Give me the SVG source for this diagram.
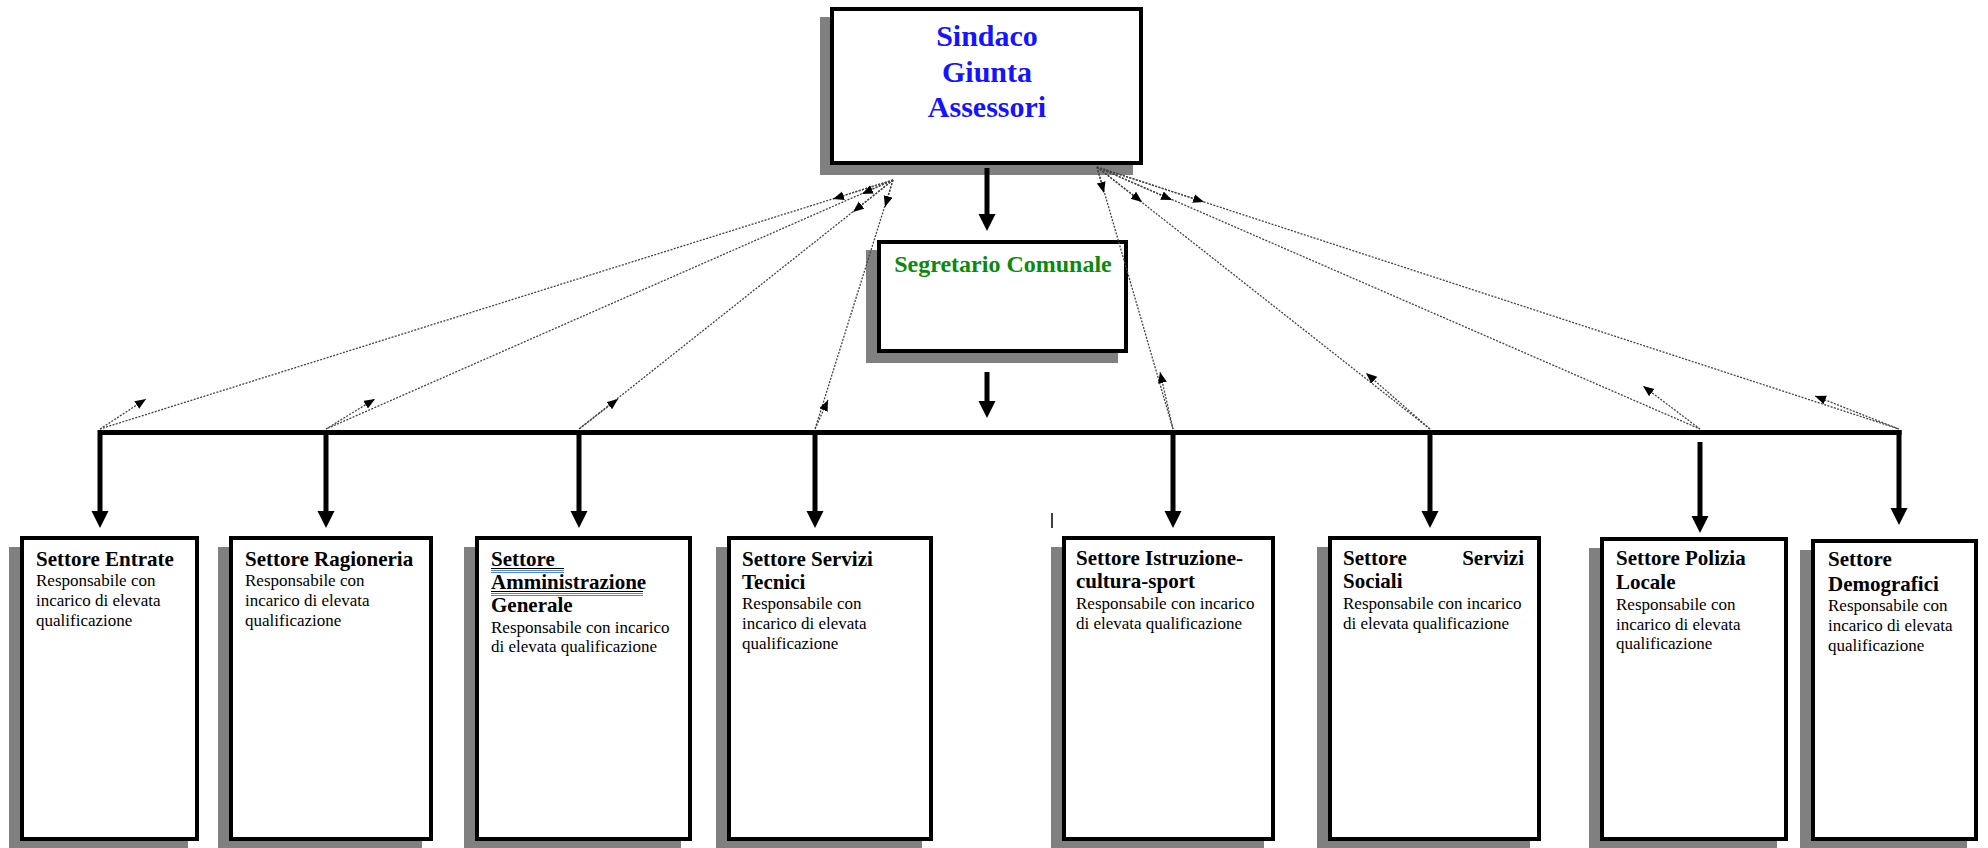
<svg xmlns="http://www.w3.org/2000/svg" width="1988" height="848" viewBox="0 0 1988 848">
<style>
.shadow{fill:#808080}
.box{fill:#fff;stroke:#000;stroke-width:4}
.h{font-family:"Liberation Serif","Times New Roman",serif;font-weight:bold;font-size:21px;fill:#000}
.b{font-family:"Liberation Serif","Times New Roman",serif;font-size:17px;fill:#000}
.top{font-family:"Liberation Serif","Times New Roman",serif;font-weight:bold;font-size:30px;fill:#1414ff;text-anchor:middle}
.seg{font-family:"Liberation Serif","Times New Roman",serif;font-weight:bold;font-size:24px;fill:#0a8a0a;text-anchor:middle}
.thick{stroke:#000;stroke-width:5;fill:none}
.dot{stroke:#444;stroke-width:1.3;stroke-dasharray:2 1.4;fill:none}
</style>
<defs>
<marker id="big" markerUnits="userSpaceOnUse" markerWidth="18" markerHeight="18" refX="6" refY="8.5" orient="auto">
<path d="M0,0 L17,8.5 L0,17 z" fill="#000"/>
</marker>
<marker id="sm" markerUnits="userSpaceOnUse" markerWidth="12" markerHeight="10" refX="11" refY="4.5" orient="auto">
<path d="M0,0 L11,4.5 L0,9 z" fill="#000"/>
</marker>
</defs>

<g id="node-top">
<rect class="shadow" x="820" y="17" width="313" height="158"/>
<rect class="box" x="832" y="9" width="309" height="154"/>
<text class="top" x="987" y="46">Sindaco</text>
<text class="top" x="987" y="82">Giunta</text>
<text class="top" x="987" y="117">Assessori</text>
</g>

<g id="node-segretario">
<rect class="shadow" x="866" y="250" width="252" height="113"/>
<rect class="box" x="879" y="242" width="247" height="109"/>
<text class="seg" x="1003" y="272">Segretario Comunale</text>
</g>

<g id="node-entrate">
<rect class="shadow" x="9" y="547" width="179" height="305"/>
<rect class="box" x="22" y="538" width="175" height="301"/>
<text class="h" x="36" y="566">Settore Entrate</text>
<text class="b" x="36" y="586">Responsabile con</text>
<text class="b" x="36" y="606">incarico di elevata</text>
<text class="b" x="36" y="626">qualificazione</text>
</g>

<g id="node-ragioneria">
<rect class="shadow" x="218" y="547" width="204" height="305"/>
<rect class="box" x="231" y="538" width="200" height="301"/>
<text class="h" x="245" y="566">Settore Ragioneria</text>
<text class="b" x="245" y="586">Responsabile con</text>
<text class="b" x="245" y="606">incarico di elevata</text>
<text class="b" x="245" y="626">qualificazione</text>
</g>

<g id="node-amministrazione">
<rect class="shadow" x="464" y="547" width="217" height="305"/>
<rect class="box" x="477" y="538" width="213" height="301"/>
<text class="h" x="491" y="566">Settore </text>
<text class="h" x="491" y="589">Amministrazione</text>
<line x1="491" y1="568.5" x2="564" y2="568.5" stroke="#000" stroke-width="1"/>
<line x1="491" y1="570.5" x2="564" y2="570.5" stroke="#4f86e0" stroke-width="1"/>
<line x1="491" y1="572.5" x2="564" y2="572.5" stroke="#4f86e0" stroke-width="1"/>
<line x1="491" y1="591.5" x2="643" y2="591.5" stroke="#000" stroke-width="1"/>
<line x1="491" y1="593.5" x2="643" y2="593.5" stroke="#4f86e0" stroke-width="1"/>
<line x1="491" y1="595.5" x2="643" y2="595.5" stroke="#4f86e0" stroke-width="1"/>
<text class="h" x="491" y="612">Generale</text>
<text class="b" x="491" y="633">Responsabile con incarico</text>
<text class="b" x="491" y="652">di elevata qualificazione</text>
</g>

<g id="node-tecnici">
<rect class="shadow" x="716" y="547" width="206" height="305"/>
<rect class="box" x="729" y="538" width="202" height="301"/>
<text class="h" x="742" y="566">Settore Servizi</text>
<text class="h" x="742" y="589">Tecnici</text>
<text class="b" x="742" y="609">Responsabile con</text>
<text class="b" x="742" y="629">incarico di elevata</text>
<text class="b" x="742" y="649">qualificazione</text>
</g>

<g id="node-istruzione">
<rect class="shadow" x="1051" y="547" width="213" height="305"/>
<rect class="box" x="1064" y="538" width="209" height="301"/>
<text class="h" x="1076" y="565">Settore Istruzione-</text>
<text class="h" x="1076" y="588">cultura-sport</text>
<text class="b" x="1076" y="609">Responsabile con incarico</text>
<text class="b" x="1076" y="629">di elevata qualificazione</text>
</g>

<g id="node-sociali">
<rect class="shadow" x="1317" y="547" width="213" height="305"/>
<rect class="box" x="1330" y="538" width="209" height="301"/>
<text class="h" x="1343" y="565">Settore</text>
<text class="h" x="1524" y="565" text-anchor="end">Servizi</text>
<text class="h" x="1343" y="588">Sociali</text>
<text class="b" x="1343" y="609">Responsabile con incarico</text>
<text class="b" x="1343" y="629">di elevata qualificazione</text>
</g>

<g id="node-polizia">
<rect class="shadow" x="1589" y="548" width="188" height="304"/>
<rect class="box" x="1602" y="539" width="184" height="300"/>
<text class="h" x="1616" y="565">Settore Polizia</text>
<text class="h" x="1616" y="589">Locale</text>
<text class="b" x="1616" y="610">Responsabile con</text>
<text class="b" x="1616" y="630">incarico di elevata</text>
<text class="b" x="1616" y="649">qualificazione</text>
</g>

<g id="node-demografici">
<rect class="shadow" x="1800" y="550" width="167" height="302"/>
<rect class="box" x="1813" y="541" width="163" height="298"/>
<text class="h" x="1828" y="566">Settore</text>
<text class="h" x="1828" y="591">Demografici</text>
<text class="b" x="1828" y="611">Responsabile con</text>
<text class="b" x="1828" y="631">incarico di elevata</text>
<text class="b" x="1828" y="651">qualificazione</text>
</g>

<g id="connectors">
<line class="thick" x1="987" y1="168" x2="987" y2="220" marker-end="url(#big)"/>
<line class="thick" x1="987" y1="372" x2="987" y2="407" marker-end="url(#big)"/>
<path class="thick" d="M98,432.5 H1901.5"/>
<line class="thick" x1="100" y1="430" x2="100" y2="517" marker-end="url(#big)"/>
<line class="thick" x1="326" y1="430" x2="326" y2="517" marker-end="url(#big)"/>
<line class="thick" x1="579" y1="430" x2="579" y2="517" marker-end="url(#big)"/>
<line class="thick" x1="815" y1="430" x2="815" y2="517" marker-end="url(#big)"/>
<line class="thick" x1="1173" y1="430" x2="1173" y2="517" marker-end="url(#big)"/>
<line class="thick" x1="1430" y1="430" x2="1430" y2="517" marker-end="url(#big)"/>
<line class="thick" x1="1700" y1="442" x2="1700" y2="522" marker-end="url(#big)"/>
<line class="thick" x1="1899" y1="430" x2="1899" y2="514" marker-end="url(#big)"/>
<line x1="1052" y1="513" x2="1052" y2="528" stroke="#000" stroke-width="1.5"/>

<line class="dot" x1="893" y1="180" x2="100" y2="429"/>
<line class="dot" x1="893" y1="180" x2="326" y2="429"/>
<line class="dot" x1="893" y1="180" x2="579" y2="429"/>
<line class="dot" x1="893" y1="180" x2="815" y2="429"/>
<line class="dot" x1="1097" y1="167" x2="1173" y2="429"/>
<line class="dot" x1="1097" y1="167" x2="1430" y2="429"/>
<line class="dot" x1="1097" y1="167" x2="1700" y2="429"/>
<line class="dot" x1="1097" y1="167" x2="1899" y2="429"/>

<line class="dot" x1="893" y1="180" x2="833" y2="199" marker-end="url(#sm)"/>
<line class="dot" x1="893" y1="180" x2="862" y2="194" marker-end="url(#sm)"/>
<line class="dot" x1="893" y1="180" x2="853" y2="212" marker-end="url(#sm)"/>
<line class="dot" x1="893" y1="180" x2="885" y2="207" marker-end="url(#sm)"/>
<line class="dot" x1="1097" y1="167" x2="1104" y2="193" marker-end="url(#sm)"/>
<line class="dot" x1="1097" y1="167" x2="1142" y2="202" marker-end="url(#sm)"/>
<line class="dot" x1="1097" y1="167" x2="1172" y2="200" marker-end="url(#sm)"/>
<line class="dot" x1="1097" y1="167" x2="1204" y2="202" marker-end="url(#sm)"/>

<line class="dot" x1="100" y1="429" x2="146" y2="399" marker-end="url(#sm)"/>
<line class="dot" x1="326" y1="429" x2="375" y2="399" marker-end="url(#sm)"/>
<line class="dot" x1="579" y1="429" x2="618" y2="399" marker-end="url(#sm)"/>
<line class="dot" x1="815" y1="429" x2="828" y2="400" marker-end="url(#sm)"/>
<line class="dot" x1="1173" y1="429" x2="1160" y2="372" marker-end="url(#sm)"/>
<line class="dot" x1="1430" y1="429" x2="1366" y2="373" marker-end="url(#sm)"/>
<line class="dot" x1="1700" y1="429" x2="1643" y2="386" marker-end="url(#sm)"/>
<line class="dot" x1="1899" y1="429" x2="1815" y2="396" marker-end="url(#sm)"/>
</g>
</svg>
